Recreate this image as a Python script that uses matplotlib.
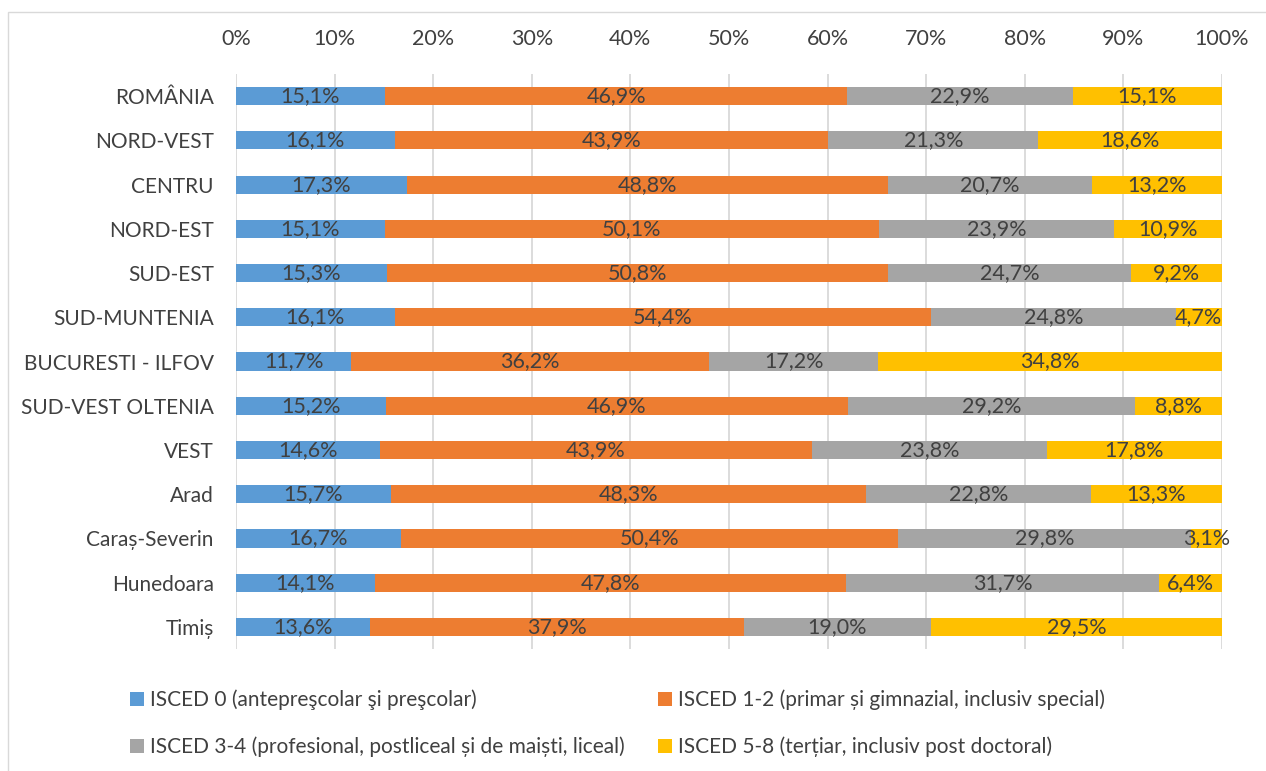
import matplotlib.pyplot as plt
import numpy as np
from matplotlib.patches import Rectangle

plt.rcParams['font.family'] = ['Lato', 'DejaVu Sans']

# Data (percent shares per region)
regions = ['ROMÂNIA', 'NORD-VEST', 'CENTRU', 'NORD-EST', 'SUD-EST', 'SUD-MUNTENIA',
           'BUCURESTI - ILFOV', 'SUD-VEST OLTENIA', 'VEST', 'Arad', 'Caraș-Severin',
           'Hunedoara', 'Timiș']
isced0 = [15.1, 16.1, 17.3, 15.1, 15.3, 16.1, 11.7, 15.2, 14.6, 15.7, 16.7, 14.1, 13.6]
isced12 = [46.9, 43.9, 48.8, 50.1, 50.8, 54.4, 36.2, 46.9, 43.9, 48.3, 50.4, 47.8, 37.9]
isced34 = [22.9, 21.3, 20.7, 23.9, 24.7, 24.8, 17.2, 29.2, 23.8, 22.8, 29.8, 31.7, 19.0]
isced58 = [15.1, 18.6, 13.2, 10.9, 9.2, 4.7, 34.8, 8.8, 17.8, 13.3, 3.1, 6.4, 29.5]

series = [isced0, isced12, isced34, isced58]
labels = ['ISCED 0 (antepreşcolar şi preşcolar)',
          'ISCED 1-2 (primar și gimnazial, inclusiv special)',
          'ISCED 3-4 (profesional, postliceal și de maiști, liceal)',
          'ISCED 5-8 (terțiar, inclusiv post doctoral)']
colors = ['#5B9BD5', '#ED7D31', '#A5A5A5', '#FFC000']
txt_color = '#404040'

fig = plt.figure(figsize=(12.66, 7.71), dpi=100)
ax = fig.add_axes([0.1864, 0.1582, 0.9652 - 0.1864, 0.904 - 0.1582])

# outer chart border
fig.patches.append(Rectangle((8 / 1266, -0.01), 1.02, 1 - 12 / 771 + 0.01,
                             transform=fig.transFigure, fill=False,
                             edgecolor='#D9D9D9', linewidth=1))

data = np.array(series)
totals = data.sum(axis=0)
shares = data / totals * 100
y = np.arange(len(regions))
left = np.zeros(len(regions))
handles = []
for vals, raw, c, lab in zip(shares, data, colors, labels):
    h = ax.barh(y, vals, left=left, height=0.41, color=c, label=lab, zorder=3)
    handles.append(h)
    for yi, l, v, r in zip(y, left, vals, raw):
        ax.text(l + v / 2, yi, f'{r:.1f}'.replace('.', ',') + '%', ha='center',
                va='center', color=txt_color, fontsize=15.5, zorder=4)
    left += vals

ax.set_xlim(0, 100)
ax.set_ylim(len(regions) - 0.5, -0.5)
ax.set_xticks(np.arange(0, 101, 10))
ax.set_xticklabels([f'{v}%' for v in range(0, 101, 10)])
ax.set_yticks(y)
ax.set_yticklabels(regions)
ax.xaxis.tick_top()
ax.tick_params(axis='x', length=0, pad=18, labelsize=15.5, labelcolor=txt_color)
ax.tick_params(axis='y', length=0, pad=16, labelsize=15, labelcolor=txt_color)
ax.grid(axis='x', color='#D9D9D9', linewidth=1.3, zorder=0)
for s in ax.spines.values():
    s.set_visible(False)

order = [0, 2, 1, 3]
fig.legend([handles[i] for i in order], [labels[i] for i in order], ncol=2,
           loc='lower left', bbox_to_anchor=(0.088, -0.006), frameon=False,
           fontsize=15, labelcolor=txt_color, handlelength=0.65, handleheight=0.65,
           handletextpad=0.3, columnspacing=1.6, labelspacing=1.25)

fig.savefig('out.png', dpi=100)
